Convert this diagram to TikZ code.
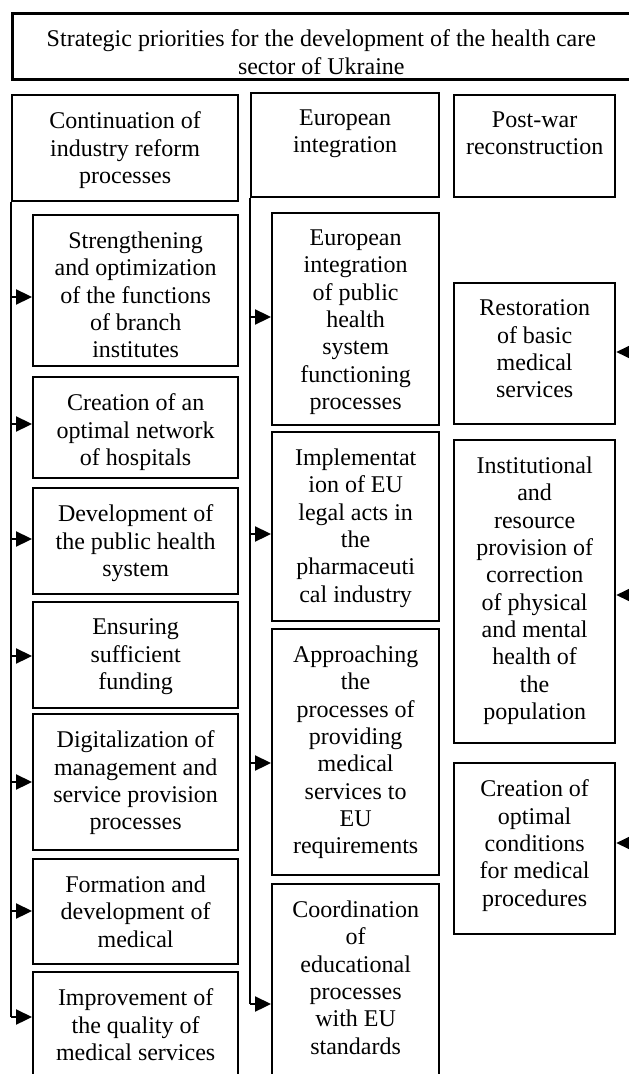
\documentclass[tikz,border=0pt]{standalone}
\usepackage{fontspec}
\setmainfont{Liberation Serif}
\usetikzlibrary{arrows.meta, positioning}

\begin{document}
\begin{tikzpicture}
% Style
[
    x=0.5pt, y=-0.5pt, line width=1.15pt,
    box/.style 2 args={
        draw, shape=rectangle, anchor=north west, inner sep=0pt,
        minimum width=#1, minimum height=#2
    },
    txt/.style={
        anchor=north, align=center, inner sep=0pt,
        font=\fontsize{12}{13.65}\selectfont
    },
    arrow/.style={-{Triangle[length=8pt, width=7.5pt]}}
]
\useasboundingbox (0,0) rectangle (628,1074);

%=================================== Start ===================================
{
    % title and the three directions
    \node[box={309pt}{33pt}, line width=1.3pt] (title) at (11,12) {};
    \node[txt] (title-t) at ([yshift=-8.4pt]title.north)
        {Strategic priorities for the development of the health care\\sector of Ukraine};

    \node[box={113pt}{53pt}] (head-a) at (11,94) {};
    \node[box={94pt}{52pt}]  (head-b) at (250,92) {};
    \node[box={80.5pt}{51pt}] (head-c) at (453,94) {};
    \node[txt] (head-a-t) at ([yshift=-8.4pt]head-a.north) {Continuation of\\industry reform\\processes};
    \node[txt] (head-b-t) at ([yshift=-8.4pt]head-b.north) {European\\integration};
    \node[txt] (head-c-t) at ([yshift=-8.4pt]head-c.north) {Post-war\\reconstruction};

    % reform processes
    \foreach \i/\y/\h/\t in {
        1/214/75.5pt/{Strengthening\\and optimization\\of the functions\\of branch\\institutes},
        2/376/50.5pt/{Creation of an\\optimal network\\of hospitals},
        3/487/53pt/{Development of\\the public health\\system},
        4/601/53pt/{Ensuring\\sufficient\\funding},
        5/713/68pt/{Digitalization of\\management and\\service provision\\processes},
        6/858/52.5pt/{Formation and\\development of\\medical},
        7/971/57pt/{Improvement of\\the quality of\\medical services}} {
        \node[box={102.5pt}{\h}] (box-a-\i) at (32,\y) {};
        \node[txt] (txt-a-\i) at ([yshift=-8.4pt]box-a-\i.north) {\t};
    }

    % european integration
    \foreach \i/\y/\h/\t in {
        1/212/106pt/{European\\integration\\of public\\health\\system\\functioning\\processes},
        2/431/94.5pt/{Implementat\\ion of EU\\legal acts in\\the\\pharmaceuti\\cal industry},
        3/628/123pt/{Approaching\\the\\processes of\\providing\\medical\\services to\\EU\\requirements},
        4/883/103.5pt/{Coordination\\of\\educational\\processes\\with EU\\standards}} {
        \node[box={83.5pt}{\h}] (box-b-\i) at (271,\y) {};
        \node[txt] (txt-b-\i) at ([yshift=-8.4pt]box-b-\i.north) {\t};
    }

    % post-war reconstruction
    \foreach \i/\y/\h/\t in {
        1/282/70.5pt/{Restoration\\of basic\\medical\\services},
        2/439/151.5pt/{Institutional\\and\\resource\\provision of\\correction\\of physical\\and mental\\health of\\the\\population},
        3/762/85.5pt/{Creation of\\optimal\\conditions\\for medical\\procedures}} {
        \node[box={80.5pt}{\h}] (box-c-\i) at (453,\y) {};
        \node[txt] (txt-c-\i) at ([yshift=-8.4pt]box-c-\i.north) {\t};
    }

    % connectors
    \draw (head-a.south west) -- (head-a.south west |- 0,1017);
    \foreach \i/\y in {1/297, 2/424, 3/539, 4/656, 5/782, 6/911, 7/1017} {
        \draw[arrow] (head-a.south west |- 0,\y) -- (box-a-\i.west |- 0,\y);
    }
    \draw (head-b.south west) -- (head-b.south west |- 0,1004);
    \foreach \i/\y in {1/317, 2/534, 3/763, 4/1004} {
        \draw[arrow] (head-b.south west |- 0,\y) -- (box-b-\i.west |- 0,\y);
    }
    \foreach \i/\y in {1/352, 2/595, 3/843} {
        \coordinate (in-c-\i) at (640,\y);
        \draw[arrow] (in-c-\i) -- (box-c-\i.east |- in-c-\i);
    }
}
%==================================== END ====================================

\end{tikzpicture}
\end{document}
